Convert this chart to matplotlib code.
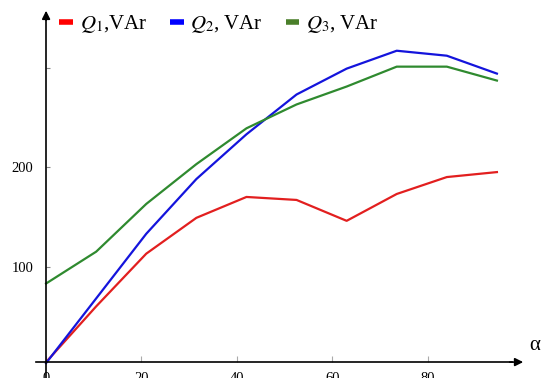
import matplotlib
matplotlib.use("Agg")
import matplotlib.pyplot as plt

# angle alpha, degrees
alpha = [0, 10, 20, 30, 40, 50, 60, 70, 80, 90]

# reactive power, VAr
q1 = [4, 60, 113, 149, 170, 167, 146, 173, 190, 195]
q2 = [3, 68, 133, 188, 233, 273, 299, 317, 312, 294]
q3 = [83, 115, 163, 203, 239, 263, 281, 301, 301, 287]

x_tick_labels = [0, 20, 40, 60, 80]
y_tick_values = [100, 200, 300]
y_tick_labels = ["100", "200", ""]
# the source figure draws its x tick marks on a slightly compressed scale
tick_scale = 0.952

plt.rcParams["font.family"] = "Liberation Serif"
plt.rcParams["mathtext.fontset"] = "stix"

fig = plt.figure(figsize=(5.43, 3.78), dpi=100)
ax = fig.add_axes([0, 0, 1, 1])
ax.set_xlim(-9.2, 99.2)
ax.set_ylim(-12, 368)

ax.plot(alpha, q1, color="#e21f1f", lw=1.6, label="$Q_1$,VAr")
ax.plot(alpha, q2, color="#1414dc", lw=1.6, label="$Q_2$, VAr")
ax.plot(alpha, q3, color="#2f8a2f", lw=1.6, label="$Q_3$, VAr")

# axes through the origin
for s in ["top", "right"]:
    ax.spines[s].set_visible(False)
ax.spines["left"].set_position(("data", 0))
ax.spines["bottom"].set_position(("data", 4))
ax.spines["left"].set_bounds(-12, 350)
ax.spines["bottom"].set_bounds(-2, 93)
ax.spines["left"].set_linewidth(1.2)
ax.spines["bottom"].set_linewidth(1.2)
ax.annotate("", xy=(0, 360), xytext=(0, 345),
            arrowprops=dict(arrowstyle="-|>", color="black", lw=1.2,
                            mutation_scale=12))
ax.annotate("", xy=(95.8, 4), xytext=(92, 4),
            arrowprops=dict(arrowstyle="-|>", color="black", lw=1.2,
                            mutation_scale=12))

ax.set_xticks([v * tick_scale for v in x_tick_labels])
ax.set_xticklabels([str(v) for v in x_tick_labels])
ax.set_yticks(y_tick_values)
ax.set_yticklabels(y_tick_labels)
ax.tick_params(axis="x", direction="in", length=4, color="#aaaaaa",
               labelsize=10.5, pad=7)
ax.tick_params(axis="y", direction="in", length=3, color="#888888",
               labelsize=10.5, pad=9)

ax.text(97.6, 11, "α", fontsize=15, ha="center", va="bottom")

leg = ax.legend(ncol=3, loc="upper left", bbox_to_anchor=(0.094, 0.987),
                frameon=False, fontsize=15, handlelength=0.67,
                handletextpad=0.3, columnspacing=1.1, borderaxespad=0)
for h, c in zip(leg.get_lines(), ["#ff0000", "#0000ff", "#4a7f2a"]):
    h.set_linewidth(4)
    h.set_color(c)
    h.set_solid_capstyle("butt")

fig.savefig("out.png", dpi=100)
